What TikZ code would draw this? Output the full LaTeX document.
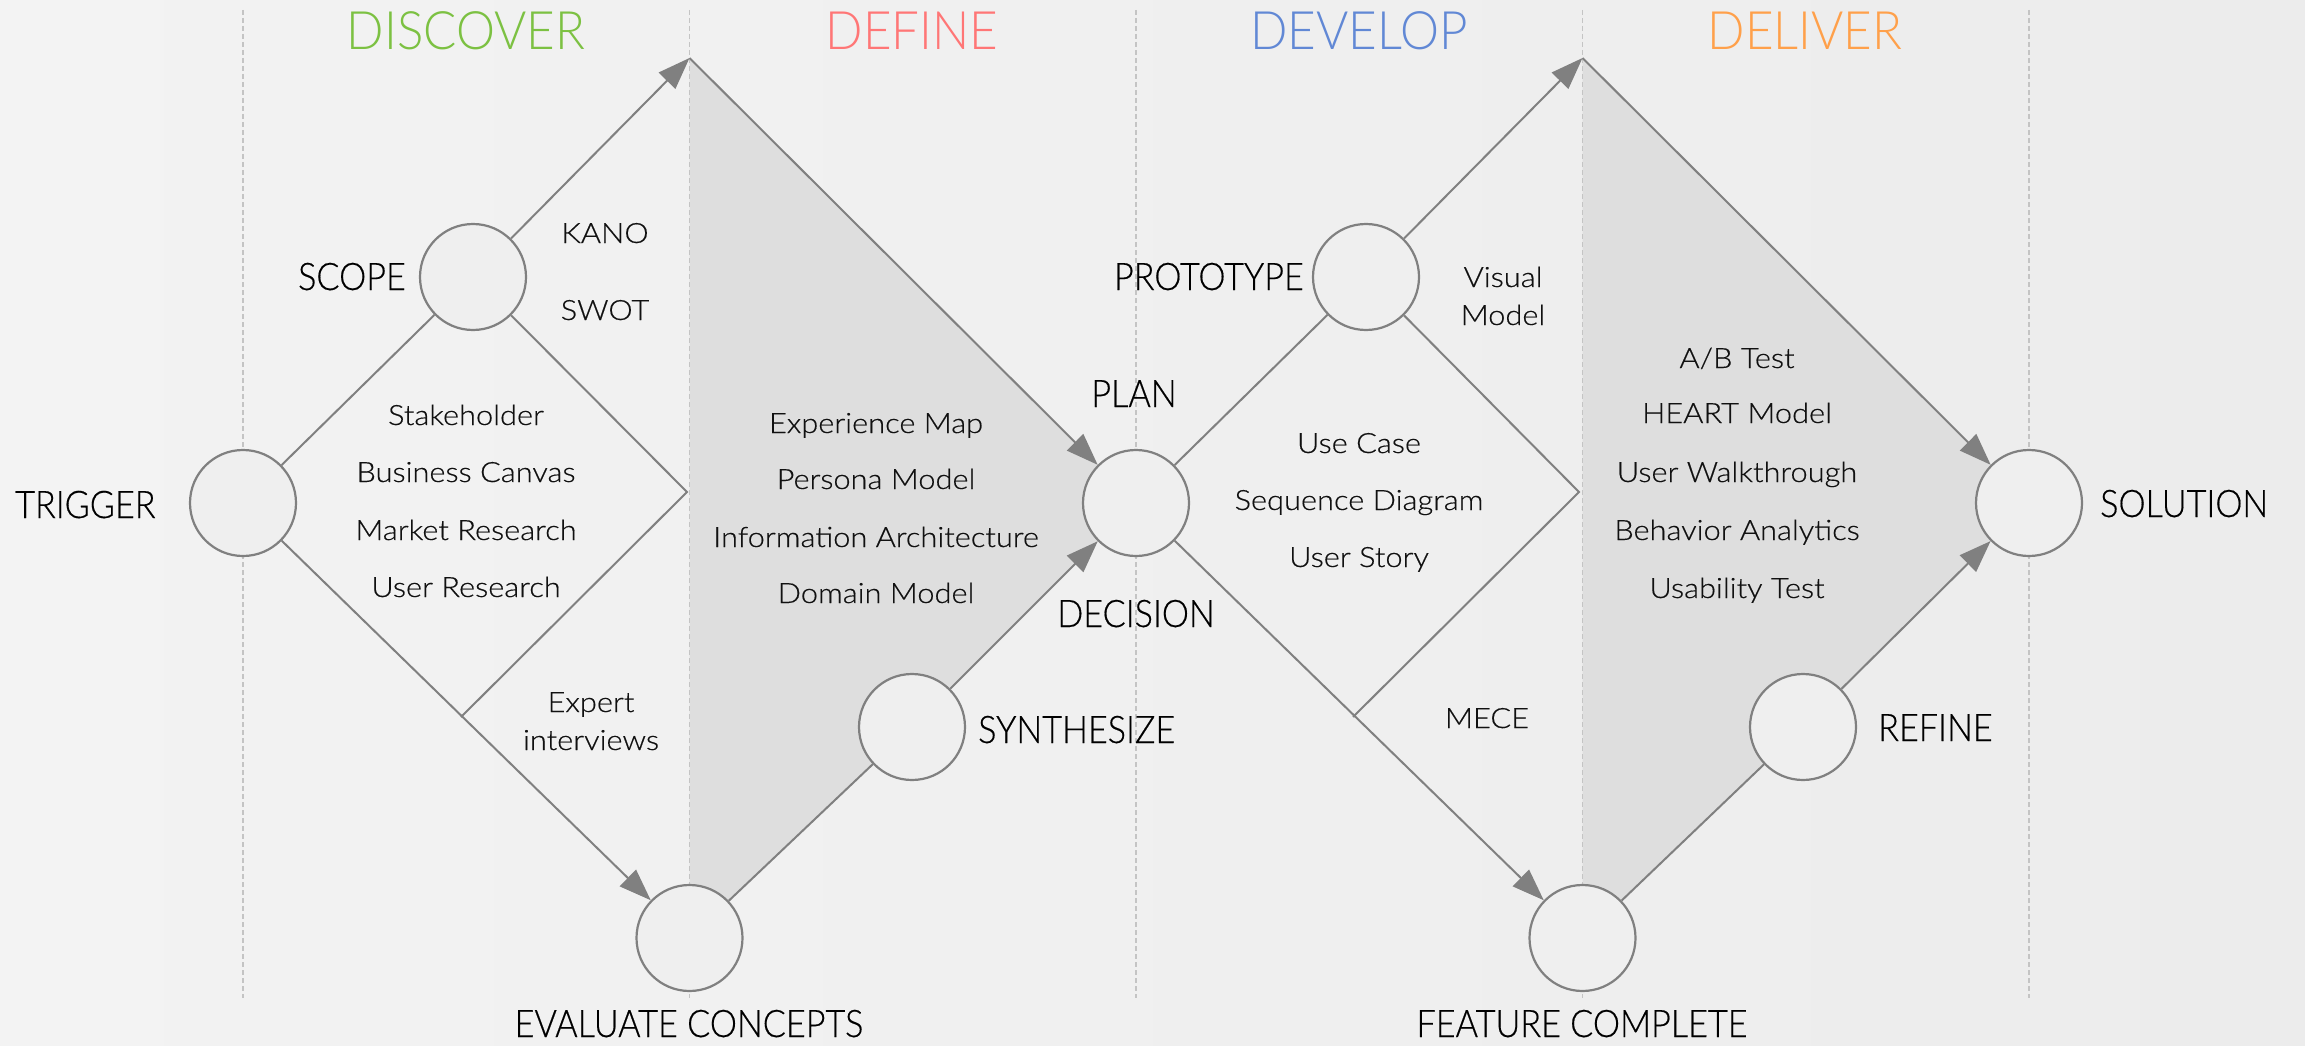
\documentclass[tikz,border=0pt]{standalone}
\usepackage{fontspec}
\setmainfont{Lato Light}
\newfontfamily\itemfont{Lato Light}[FakeStretch=1.1,FakeBold=0.4]
\newfontfamily\lblfont{Lato Light}[FakeStretch=0.9,FakeBold=0.4]
\newfontfamily\ttlfont{Lato Light}[FakeStretch=0.93]
\usetikzlibrary{arrows.meta}
\definecolor{bgL}{HTML}{F3F3F3}
\definecolor{bgR}{HTML}{ECECEC}
\definecolor{shadegray}{HTML}{DEDEDE}
\definecolor{ln}{HTML}{808080}
\definecolor{guidecol}{HTML}{C4C4C4}
\definecolor{circfill}{HTML}{EFEFEF}
\definecolor{cDisc}{HTML}{7CC142}
\definecolor{cDef}{HTML}{FF7676}
\definecolor{cDev}{HTML}{6188D5}
\definecolor{cDel}{HTML}{FFA04A}
\definecolor{txt}{HTML}{111111}
\begin{document}
\begin{tikzpicture}[x=1pt,y=-1pt,
  stage/.style={circle,draw=ln,line width=2.2pt,fill=circfill,minimum size=106pt,inner sep=0pt},
  conn/.style={draw=ln,line width=2pt},
  arr/.style={conn,-{Triangle[length=32pt,width=23pt]}},
  guide/.style={draw=guidecol,line width=1.5pt,dash pattern=on 5pt off 3pt},
  title/.style={font=\ttlfont\fontsize{53}{60}\selectfont,inner sep=0pt,anchor=base},
  lbl/.style={font=\lblfont\fontsize{38}{44}\selectfont,text=black,inner sep=0pt},
  item/.style={font=\itemfont\fontsize{28}{34}\selectfont,text=txt,inner sep=0pt,anchor=base},
]
\useasboundingbox (0,0) rectangle (2305,1046);
\fill[left color=bgL,right color=bgR] (0,0) rectangle (2305,1046);

% positions
\coordinate (pTrig) at (243,503);
\coordinate (pScope) at (473,277);
\coordinate (pEval) at (689.5,938);
\coordinate (pSynth) at (912,727);
\coordinate (pPlan) at (1136,503);
\coordinate (pProto) at (1366,277);
\coordinate (pFeat) at (1582.5,938);
\coordinate (pRefine) at (1803,727);
\coordinate (pSol) at (2029,503);
\coordinate (apexA) at (689.5,58);
\coordinate (apexB) at (1582.5,58);
\coordinate (vA) at (687,492);
\coordinate (wA) at (461,717);
\coordinate (vB) at (1579,492);
\coordinate (wB) at (1353,717);

% shaded areas
\fill[shadegray] (apexA) -- (pPlan) -- (pSynth) -- (pEval) -- cycle;
\fill[shadegray] (apexB) -- (pSol) -- (pRefine) -- (pFeat) -- cycle;

% guide lines
\foreach \gx/\gn in {243/g1,689.5/g2,1136/g3,1582.5/g4,2029/g5}{
  \coordinate (\gn top) at (\gx,10);
  \coordinate (\gn bot) at (\gx,998);
  \draw[guide] (\gn top) -- (\gn bot);
}

% titles
\node[title,text=cDisc] (tDisc) at (466,50) {DISCOVER};
\node[title,text=cDef] (tDef) at (912,50) {DEFINE};
\node[title,text=cDev] (tDev) at (1359,50) {DEVELOP};
\node[title,text=cDel] (tDel) at (1805,50) {DELIVER};

% circles
\node[stage] (trigger) at (pTrig) {};
\node[stage] (scope) at (pScope) {};
\node[stage] (evaluate) at (pEval) {};
\node[stage] (synth) at (pSynth) {};
\node[stage] (plan) at (pPlan) {};
\node[stage] (proto) at (pProto) {};
\node[stage] (feature) at (pFeat) {};
\node[stage] (refine) at (pRefine) {};
\node[stage] (solution) at (pSol) {};

% connectors
\draw[conn] (trigger) -- (scope);
\draw[arr] (scope) -- (apexA);
\draw[arr] (apexA) -- (plan);
\draw[arr] (trigger) -- (evaluate);
\draw[conn] (evaluate) -- (synth);
\draw[arr] (synth) -- (plan);
\draw[conn] (scope) -- (vA) -- (wA);
\draw[conn] (plan) -- (proto);
\draw[arr] (proto) -- (apexB);
\draw[arr] (apexB) -- (solution);
\draw[arr] (plan) -- (feature);
\draw[conn] (feature) -- (refine);
\draw[arr] (refine) -- (solution);
\draw[conn] (proto) -- (vB) -- (wB);

% stage labels
\node[lbl,anchor=base west] (lTrig) at (15,518) {TRIGGER};
\node[lbl,anchor=base east] (lScope) at (406,290) {SCOPE};
\node[lbl,anchor=base east] (lProto) at (1304,290) {PROTOTYPE};
\node[lbl,anchor=base] (lPlan) at (1134,407) {PLAN};
\node[lbl,anchor=base] (lDec) at (1136,627) {DECISION};
\node[lbl,anchor=base west] (lSynth) at (978,743) {SYNTHESIZE};
\node[lbl,anchor=base west] (lRefine) at (1878,741) {REFINE};
\node[lbl,anchor=base west] (lSol) at (2100,517) {SOLUTION};
\node[lbl,anchor=base] (lEval) at (689,1037) {EVALUATE CONCEPTS};
\node[lbl,anchor=base] (lFeat) at (1582,1037) {FEATURE COMPLETE};

% discover items
\node[item] (i1) at (466,425) {Stakeholder};
\node[item] (i2) at (466,482) {Business Canvas};
\node[item] (i3) at (466,540) {Market Research};
\node[item] (i4) at (466,597) {User Research};
\node[item] (i5) at (605,243) {KANO};
\node[item] (i6) at (605,320) {SWOT};
\node[item] (i7) at (591,712) {Expert};
\node[item] (i8) at (591,750) {interviews};
% define items
\node[item] (d1) at (876,433) {Experience Map};
\node[item] (d2) at (876,489) {Persona Model};
\node[item] (d3) at (876,547) {Information Architecture};
\node[item] (d4) at (876,603) {Domain Model};
% develop items
\node[item] (v1) at (1503,287) {Visual};
\node[item] (v2) at (1503,325) {Model};
\node[item] (v3) at (1359,453) {Use Case};
\node[item] (v4) at (1359,510) {Sequence Diagram};
\node[item] (v5) at (1359,567) {User Story};
\node[item] (v6) at (1487,728) {MECE};
% deliver items
\node[item] (e1) at (1737,368) {A/B Test};
\node[item] (e2) at (1737,423) {HEART Model};
\node[item] (e3) at (1737,482) {User Walkthrough};
\node[item] (e4) at (1737,540) {Behavior Analytics};
\node[item] (e5) at (1737,598) {Usability Test};
\end{tikzpicture}
\end{document}
